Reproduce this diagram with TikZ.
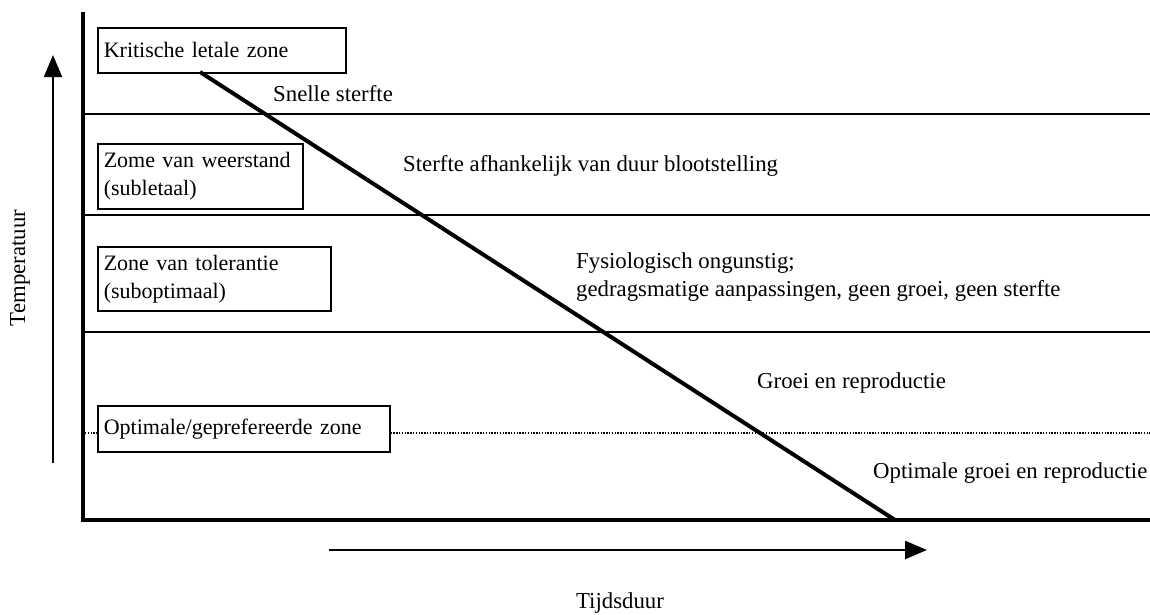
\documentclass[tikz,border=0pt]{standalone}
\usepackage{fontspec}
\setmainfont{Liberation Serif}
\usetikzlibrary{arrows.meta}
\begin{document}
\begin{tikzpicture}[x=1pt,y=-1pt,
  zonebox/.style={draw,line width=1.6pt,anchor=north west,inner xsep=5pt,inner ysep=0pt,align=left,font=\fontsize{22}{28}\selectfont},
  lbl/.style={anchor=west,inner sep=0pt,align=left,font=\fontsize{22.8}{28}\selectfont},
  axis/.style={line width=3.5pt},
  zoneline/.style={line width=1.4pt},
  arr/.style={line width=2pt,-{Triangle[length=22pt,width=18pt]}}]
\clip (0,0) rectangle (1150,614);
% zone boxes
\node[zonebox,minimum width=248pt,minimum height=45pt,text width=236pt] (b1) at (97,27) {Kritische letale zone};
\node[zonebox,minimum width=205pt,minimum height=65pt,text width=193pt] (b2) at (97,143) {Zome van weerstand\\(subletaal)};
\node[zonebox,minimum width=233pt,minimum height=64pt,text width=221pt] (b3) at (97,246) {Zone van tolerantie\\(suboptimaal)};
\node[zonebox,minimum width=292pt,minimum height=46pt,text width=280pt] (b4) at (97,405) {Optimale/geprefereerde zone};
% axes
\coordinate (ytop) at (83,12);
\coordinate (orig) at (83,520);
\coordinate (xend) at (1152,520);
\draw[axis] (ytop) -- (orig) -- (xend);
% zone lines
\coordinate (l1a) at (83,114); \coordinate (l1b) at (1152,114);
\coordinate (l2a) at (83,215); \coordinate (l2b) at (1152,215);
\coordinate (l3a) at (83,332); \coordinate (l3b) at (1152,332);
\draw[zoneline] (l1a) -- (l1b);
\draw[zoneline] (l2a) -- (l2b);
\draw[zoneline] (l3a) -- (l3b);
% dotted optimal line
\coordinate (da) at (85,433); \coordinate (db) at (1152,433);
\draw[line width=1.5pt,dash pattern=on 1.4pt off 1.4pt] (da) -- (da -| b4.west);
\draw[line width=1.5pt,dash pattern=on 1.4pt off 1.4pt] (db -| b4.east) -- (db);
% diagonal
\coordinate (ds) at (200,72);
\coordinate (de) at (895,520);
\draw[line width=4pt] (ds) -- (de);
% axis arrows
\coordinate (t1) at (53,463); \coordinate (t2) at (53,55);
\draw[arr] (t1) -- (t2);
\coordinate (r1) at (329,550); \coordinate (r2) at (927,550);
\draw[arr,line width=2.6pt] (r1) -- (r2);
\node[lbl,anchor=center,rotate=90] (ylab) at (20,268) {Temperatuur};
\node[lbl,anchor=center] (xlab) at (620,603) {Tijdsduur};
% zone texts
\node[lbl] (s1) at (273,94) {Snelle sterfte};
\node[lbl] (s2) at (403,166) {Sterfte afhankelijk van duur blootstelling};
\node[lbl] (s3) at (576,277) {Fysiologisch ongunstig;\\gedragsmatige aanpassingen, geen groei, geen sterfte};
\node[lbl] (s4) at (757,383) {Groei en reproductie};
\node[lbl] (s5) at (873,473) {Optimale groei en reproductie};
\end{tikzpicture}
\end{document}
